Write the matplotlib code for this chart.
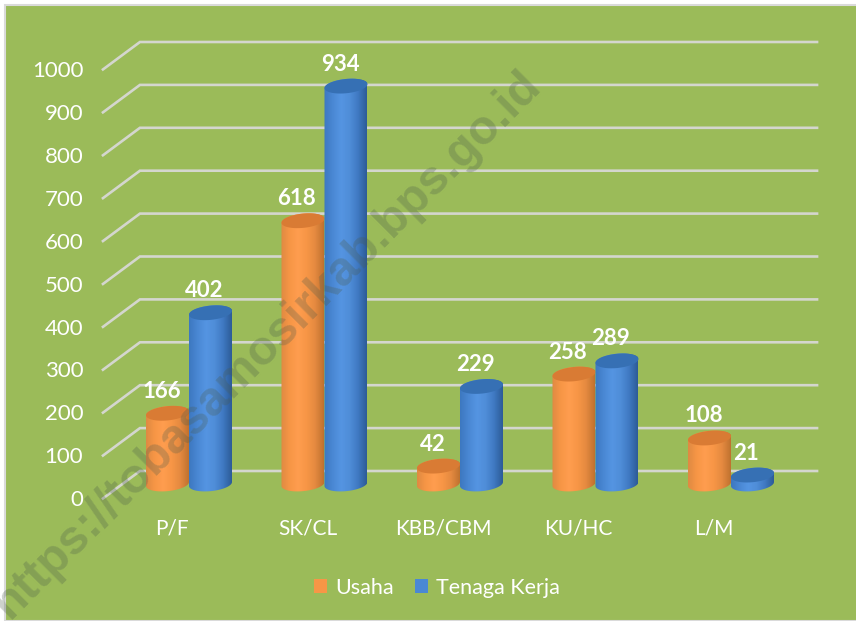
import numpy as np
import matplotlib
matplotlib.use("Agg")
import matplotlib.pyplot as plt
from matplotlib.colors import LinearSegmentedColormap
from matplotlib.patches import Polygon, Rectangle, Patch
from matplotlib.transforms import Affine2D

plt.rcParams['font.family'] = ['Lato', 'DejaVu Sans']

categories = ["P/F", "SK/CL", "KBB/CBM", "KU/HC", "L/M"]
usaha = [166, 618, 42, 258, 108]
tenaga_kerja = [402, 934, 229, 289, 21]
ticks = [0, 100, 200, 300, 400, 500, 600, 700, 800, 900, 1000]

GREEN = "#9BBB59"
GRID = "#D4D6CE"
PX_X = 135.5
PX_Y = 0.429
W, H = 856, 621

fig = plt.figure(figsize=(W / 100, H / 100), dpi=100, facecolor="white")
fig.add_artist(Rectangle((4.5 / W, 0), 1, 1 - 4.5 / H, transform=fig.transFigure,
                         facecolor=GREEN, edgecolor="#DADADA", linewidth=1.5, zorder=-1))
ax = fig.add_axes([0, 0, 1, 1])
ax.axis("off")
xlim = (-189 / PX_X, (W - 189) / PX_X)
ylim = (-(H - 471) / PX_Y, 471 / PX_Y)
ax.set_xlim(xlim)
ax.set_ylim(ylim)

# bars stand on a floor in front of the back wall
bar_trans = Affine2D().scale(1, 0.993) + ax.transData + Affine2D().translate(0, -13)
bar_w = 43 / PX_X
a = bar_w / 2
b = 7.2 / PX_Y
tilt = 2.0 / PX_Y

# back wall + side wall lines
for v in ticks:
    ax.plot([-0.635, -0.362, 4.635], [v - 64, v, v], color=GRID, lw=1.9, zorder=1,
            solid_joinstyle="miter")
    ax.text(-0.78, v - 68, str(v), color="white", fontsize=16, ha="right", va="center", zorder=6)

orange_map = LinearSegmentedColormap.from_list(
    "o", ["#DF8A42", "#F79646", "#FF9D4F", "#F79646", "#E58A40", "#C0722F"])
blue_map = LinearSegmentedColormap.from_list(
    "b", ["#3D78C0", "#4A88D4", "#5595E2", "#4F8DD8", "#3F79C2", "#2D5C98"])
ramp = np.linspace(0, 1, 64).reshape(1, -1)


def cylinder(xc, val, cmap, top_color, z):
    t = np.linspace(0, 2 * np.pi, 80)
    low = np.linspace(np.pi, 2 * np.pi, 40)
    up = np.linspace(0, np.pi, 40)
    bx = xc + a * np.cos(low)
    by = b * np.sin(low) + tilt * np.cos(low)
    tx = xc + a * np.cos(up)
    ty = val + tilt * np.cos(up) + b * np.sin(up)
    body = Polygon(np.c_[np.r_[bx, tx], np.r_[by, ty]], closed=True, transform=bar_trans,
                   facecolor="none", edgecolor="none")
    ax.add_patch(body)
    im = ax.imshow(ramp, cmap=cmap, aspect="auto", extent=(xc - a, xc + a, -b * 2, val + b * 2),
                   transform=bar_trans, zorder=z)
    im.set_clip_path(body)
    cap = Polygon(np.c_[xc + a * np.cos(t), val + b * np.sin(t) + tilt * np.cos(t)], closed=True,
                  transform=bar_trans, facecolor=top_color, edgecolor="none", zorder=z + 0.1)
    ax.add_patch(cap)


for i in range(len(categories)):
    cylinder(i - a, usaha[i], orange_map, "#D97B34", 2)
    cylinder(i + a, tenaga_kerja[i], blue_map, "#3670B4", 3)
    for xc, val in [(i - a, usaha[i]), (i + a, tenaga_kerja[i])]:
        ax.annotate(str(val), (xc, val), xycoords=bar_trans, xytext=(-6, 22), textcoords="offset pixels",
                    color="white", fontsize=16, fontweight="bold", ha="center", va="center", zorder=6)
    ax.text(i - 17 / PX_X, -135, categories[i], color="white", fontsize=15, ha="center", va="center", zorder=6)

ax.set_xlim(xlim)
ax.set_ylim(ylim)

handles = [Patch(facecolor="#F79646", label="Usaha"), Patch(facecolor="#4A88D4", label="Tenaga Kerja")]
ax.legend(handles=handles, loc="center", bbox_to_anchor=(437 / W, 1 - 588 / H), ncol=2, frameon=False,
          fontsize=15.5, labelcolor="white", handlelength=0.62, handleheight=0.62, handletextpad=0.35,
          columnspacing=1.0)

ax.text(1 / W, 1 - 611 / H, "https://tobasamosirkab.bps.go.id", transform=ax.transAxes, rotation=45,
        rotation_mode="anchor", fontsize=34.5, fontweight="bold", family=["Liberation Sans", "DejaVu Sans"],
        color="#4A5A4A", alpha=0.28, ha="left", va="center", zorder=10)

fig.savefig("out.png", dpi=100)
